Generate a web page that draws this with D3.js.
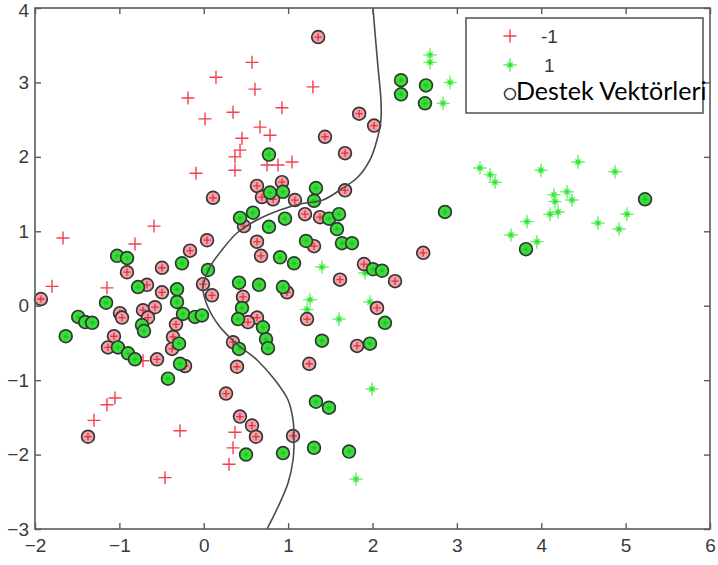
<!DOCTYPE html>
<html>
<head>
<meta charset="utf-8">
<script src="https://cdn.jsdelivr.net/npm/d3@7/dist/d3.min.js"></script>
<style>
  html, body { margin: 0; padding: 0; background: #fff; }
  svg { display: block; }
</style>
</head>
<body>
<svg id="chart" width="718" height="565"></svg>
<script>
// Class -1 samples (plain red crosses)
const negPoints = [
  [0.145,3.07],[-0.187,2.79],[0.015,2.51],[0.347,2.60],[-0.092,1.78],[0.572,3.27],
  [0.607,2.91],[0.927,2.66],[1.294,2.94],[0.667,2.40],[0.785,2.29],[0.453,2.25],
  [0.430,2.09],[0.370,2.00],[0.370,1.82],[0.750,1.89],[0.880,1.89],[1.046,1.93],
  [-1.668,0.91],[-0.590,1.07],[-0.815,0.83],[-1.798,0.26],[-1.147,0.24],[-0.720,-0.74],
  [-1.052,-1.24],[-1.147,-1.33],[-1.301,-1.54],[-0.281,-1.68],[-0.459,-2.31],
  [0.370,-1.70],[0.347,-1.91],[0.299,-2.13]
];

// Class 1 samples (green stars)
const posPoints = [
  [2.682,3.37],[2.682,3.27],[2.919,3.00],[2.836,2.72],[3.274,1.85],[3.393,1.76],
  [3.452,1.66],[3.997,1.82],[4.436,1.93],[4.874,1.80],[4.151,1.49],[4.305,1.53],
  [4.163,1.40],[4.365,1.42],[4.104,1.23],[4.199,1.26],[3.831,1.13],[3.641,0.95],
  [3.949,0.86],[4.672,1.11],[4.921,1.03],[5.016,1.23],[1.401,0.52],[1.911,0.44],
  [1.259,0.08],[1.224,-0.05],[1.970,0.05],[1.603,-0.18],[1.994,-1.12],[1.805,-2.33]
];

// Support vectors from class -1
const negSupport = [
  [1.356,3.61],[1.842,2.58],[2.019,2.42],[1.437,2.27],[1.674,2.05],[1.674,1.55],
  [0.927,1.66],[0.631,1.61],[1.081,1.42],[0.690,1.46],[0.821,1.43],[0.110,1.45],
  [1.200,1.23],[1.378,1.19],[1.307,0.80],[0.477,1.07],[0.039,0.88],[0.631,0.86],
  [-0.163,0.74],[0.679,0.67],[-0.009,0.29],[1.615,0.35],[1.899,0.56],[2.267,0.33],
  [2.601,0.71],[0.098,0.14],[0.465,0.12],[0.987,0.18],[0.631,-0.16],[0.524,-0.22],
  [1.224,-0.18],[2.054,-0.03],[1.817,-0.54],[0.347,-0.49],[0.394,-0.82],[1.250,-0.78],
  [0.264,-1.18],[0.429,-1.49],[0.572,-1.61],[0.619,-1.76],[1.058,-1.75],[-1.372,-1.76],
  [-1.930,0.09],[-0.910,0.45],[-0.495,0.51],[-0.673,0.28],[-0.495,0.18],[-0.993,-0.10],
  [-0.969,-0.16],[-0.720,-0.06],[-0.578,-0.02],[-0.661,-0.16],[-0.329,-0.25],
  [-0.364,-0.42],[-0.376,-0.58],[-1.064,-0.41],[-1.135,-0.56],[-0.554,-0.72],[-0.222,-0.81]
];

// Support vectors from class 1
const posSupport = [
  [2.338,3.03],[2.338,2.84],[2.634,2.96],[2.622,2.72],[0.773,2.03],[1.330,1.58],
  [0.785,1.52],[0.939,1.53],[1.307,1.41],[0.584,1.25],[0.430,1.18],[0.773,1.06],
  [0.963,1.17],[1.484,1.17],[1.603,1.23],[1.579,1.03],[1.638,0.84],[1.757,0.84],
  [1.212,0.87],[0.904,0.65],[1.070,0.57],[0.050,0.48],[0.418,0.31],[0.655,0.28],
  [0.939,0.25],[2.006,0.49],[2.113,0.47],[2.859,1.26],[5.230,1.43],[3.819,0.76],
  [0.453,-0.03],[0.406,-0.18],[0.702,-0.29],[0.738,-0.45],[0.761,-0.57],[0.418,-0.58],
  [1.401,-0.47],[1.970,-0.51],[2.148,-0.23],[1.330,-1.29],[1.484,-1.37],[0.501,-2.00],
  [0.939,-1.98],[1.307,-1.91],[1.722,-1.96],[-1.027,0.67],[-0.909,0.64],[-0.258,0.57],
  [-0.779,0.25],[-0.317,0.22],[-0.317,0.05],[-1.158,0.04],[-0.246,-0.11],[-0.104,-0.15],
  [-0.021,-0.13],[-0.732,-0.26],[-0.708,-0.34],[-0.293,-0.51],[-1.488,-0.15],
  [-1.405,-0.22],[-1.322,-0.23],[-1.636,-0.41],[-1.017,-0.56],[-0.898,-0.64],
  [-0.815,-0.72],[-0.281,-0.78],[-0.424,-0.98]
];

// Decision boundary of the classifier
const boundary = [
  [2.006,4.00],[2.030,3.664],[2.065,3.207],[2.100,2.764],[2.100,2.495],[2.053,2.227],
  [1.970,1.958],[1.828,1.729],[1.615,1.555],[1.413,1.420],[1.141,1.367],[0.904,1.286],
  [0.631,1.152],[0.394,0.977],[0.216,0.749],[0.074,0.520],[-0.009,0.252],[0.039,0.010],
  [0.193,-0.286],[0.406,-0.528],[0.631,-0.729],[0.844,-0.998],[0.999,-1.267],
  [1.058,-1.535],[1.070,-1.804],[1.058,-2.073],[0.999,-2.382],[0.880,-2.704],[0.750,-3.00]
];

const xTicks = [-2,-1,0,1,2,3,4,5,6];
const yTicks = [-3,-2,-1,0,1,2,3,4];
const legendLabels = ["-1", "1", "Destek Vektörleri"];

const svg = d3.select("#chart");
const x = d3.scaleLinear().domain([-2, 6]).range([35, 710]);
const y = d3.scaleLinear().domain([-3, 4]).range([529, 8]);

const RED = "#f2404c";
const GREEN = "#2fe62f";
const AXIS = "#5a5a5a";
const TICKFONT = "'Liberation Sans', Arial, sans-serif";

svg.append("rect").attr("width", 718).attr("height", 565).attr("fill", "#fff");

// marker shapes
function crossPath(r) {
  return `M${-r},0H${r}M0,${-r}V${r}`;
}
function starPath(ro, rd, ri) {
  const pts = [];
  for (let i = 0; i < 16; i++) {
    const a = i * Math.PI / 8 - Math.PI / 2;
    let r;
    if (i % 2 === 1) r = ri;
    else r = (i % 4 === 0) ? ro : rd;
    pts.push([r * Math.cos(a), r * Math.sin(a)]);
  }
  return "M" + pts.map(p => p[0].toFixed(2) + "," + p[1].toFixed(2)).join("L") + "Z";
}
const STAR = starPath(7, 4.2, 1.9);
const STAR_SMALL = starPath(4.5, 2.8, 1.3);

// Boundary curve
const line = d3.line().x(d => x(d[0])).y(d => y(d[1])).curve(d3.curveCatmullRom.alpha(0.5));

// plain samples
const plot = svg.append("g");
plot.selectAll("path.neg").data(negPoints).join("path")
  .attr("class", "neg")
  .attr("transform", d => `translate(${x(d[0])},${y(d[1])})`)
  .attr("d", crossPath(6.5))
  .attr("stroke", RED).attr("stroke-width", 1.4).attr("fill", "none");

plot.selectAll("path.pos").data(posPoints).join("path")
  .attr("class", "pos")
  .attr("transform", d => `translate(${x(d[0])},${y(d[1])})`)
  .attr("d", STAR)
  .attr("fill", GREEN).attr("stroke", "#6ff06f").attr("stroke-width", 0.6);

// support vectors: ring + class marker
const sv = svg.append("g");
const negSv = sv.selectAll("g.nsv").data(negSupport).join("g")
  .attr("class", "nsv")
  .attr("transform", d => `translate(${x(d[0])},${y(d[1])})`);
negSv.append("circle").attr("r", 6.4)
  .attr("fill", "#eea3a8").attr("stroke", "#3c3434").attr("stroke-width", 1.7);
negSv.append("path").attr("d", crossPath(3.6))
  .attr("stroke", "#e23040").attr("stroke-width", 1.3).attr("fill", "none");

const posSv = sv.selectAll("g.psv").data(posSupport).join("g")
  .attr("class", "psv")
  .attr("transform", d => `translate(${x(d[0])},${y(d[1])})`);
posSv.append("circle").attr("r", 6.4)
  .attr("fill", "#3ddc3d").attr("stroke", "#2f3a2f").attr("stroke-width", 1.7);
posSv.append("path").attr("d", STAR_SMALL).attr("fill", "#22c422");

svg.append("path").datum(boundary)
  .attr("d", line)
  .attr("fill", "none").attr("stroke", "#4a4a4a").attr("stroke-width", 1.6);

// axes with inward ticks on all four sides
function styleAxis(g) {
  g.selectAll(".domain").attr("stroke", "none");
  g.selectAll(".tick line").attr("stroke", AXIS).attr("stroke-width", 1.4);
  g.selectAll("text").attr("font-family", TICKFONT).attr("font-size", 19).attr("fill", "#3a3a3a");
}
svg.append("g").attr("transform", "translate(0,529)")
  .call(d3.axisBottom(x).tickValues(xTicks).tickFormat(d3.format("d")).tickSizeInner(-6).tickSizeOuter(0).tickPadding(10))
  .call(styleAxis);
svg.append("g").attr("transform", "translate(0,8)")
  .call(d3.axisTop(x).tickValues(xTicks).tickFormat("").tickSizeInner(-6).tickSizeOuter(0))
  .call(styleAxis);
const yAxisG = svg.append("g").attr("transform", "translate(35,0)")
  .call(d3.axisLeft(y).tickValues(yTicks).tickFormat(d3.format("d")).tickSizeInner(-6).tickSizeOuter(0).tickPadding(6))
  .call(styleAxis);
// keep the topmost label inside the page
yAxisG.selectAll(".tick text").filter(d => d === 4).attr("dy", "0.45em");
svg.append("g").attr("transform", "translate(710,0)")
  .call(d3.axisRight(y).tickValues(yTicks).tickFormat("").tickSizeInner(-6).tickSizeOuter(0))
  .call(styleAxis);

svg.append("rect")
  .attr("x", x(-2)).attr("y", y(4))
  .attr("width", x(6) - x(-2)).attr("height", y(-3) - y(4))
  .attr("fill", "none").attr("stroke", AXIS).attr("stroke-width", 1.6);

// legend
const lg = svg.append("g");
lg.append("rect").attr("x", 466).attr("y", 18).attr("width", 237).attr("height", 95)
  .attr("fill", "#fff").attr("stroke", AXIS).attr("stroke-width", 1.6);
lg.append("path").attr("transform", "translate(510,36)").attr("d", crossPath(6.5))
  .attr("stroke", RED).attr("stroke-width", 1.4).attr("fill", "none");
lg.append("path").attr("transform", "translate(510,65)").attr("d", STAR)
  .attr("fill", GREEN).attr("stroke", "#6ff06f").attr("stroke-width", 0.6);
lg.append("circle").attr("cx", 510).attr("cy", 94).attr("r", 5.5)
  .attr("fill", "none").attr("stroke", "#444").attr("stroke-width", 1.6);
lg.append("text").attr("x", 541).attr("y", 43).text(legendLabels[0])
  .attr("font-family", TICKFONT).attr("font-size", 19).attr("fill", "#3a3a3a");
lg.append("text").attr("x", 544).attr("y", 72).text(legendLabels[1])
  .attr("font-family", TICKFONT).attr("font-size", 19).attr("fill", "#3a3a3a");
lg.append("text").attr("x", 516).attr("y", 100).text(legendLabels[2])
  .attr("font-family", "Lato, 'Open Sans', sans-serif").attr("font-size", 25).attr("fill", "#000");
</script>
</body>
</html>
